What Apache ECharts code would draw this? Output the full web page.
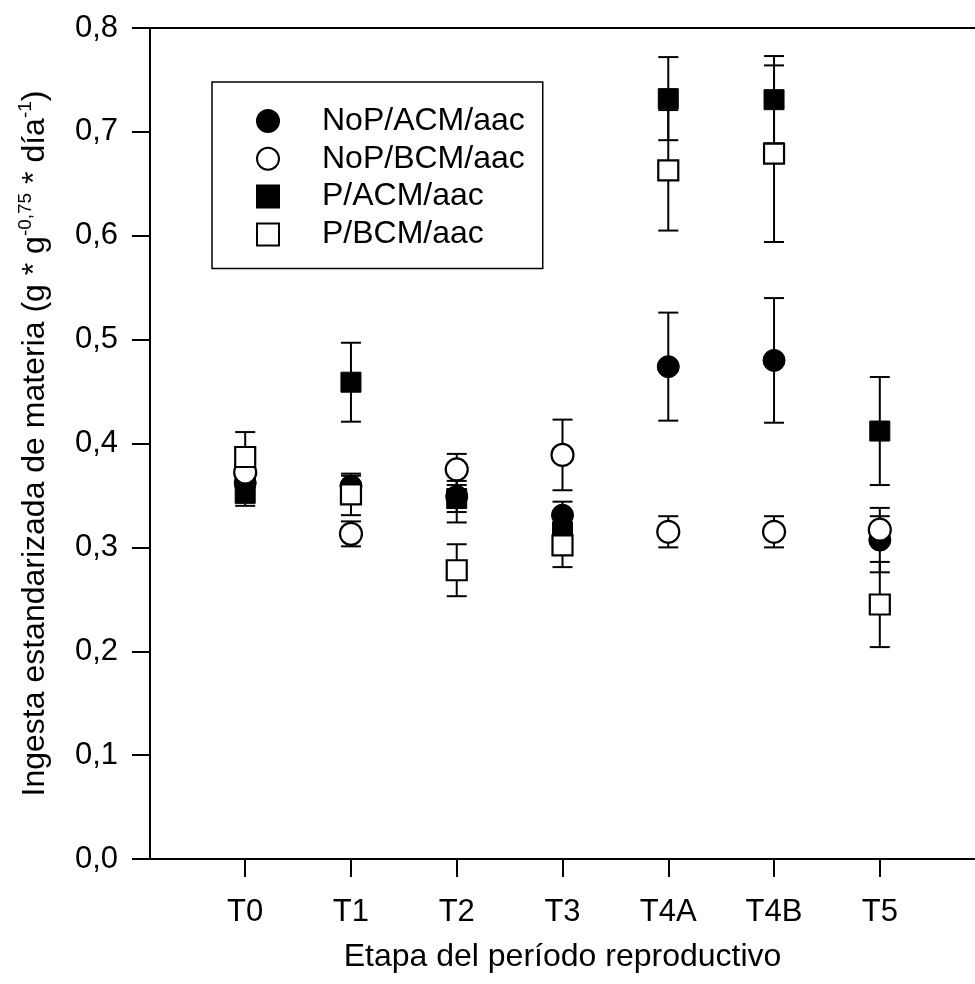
<!DOCTYPE html>
<html>
<head>
<meta charset="utf-8">
<script src="https://cdn.jsdelivr.net/npm/echarts@6/dist/echarts.min.js"></script>
<style>
  html, body { margin: 0; padding: 0; background: #fff; }
  #chart { width: 975px; height: 984px; }
</style>
</head>
<body>
<div id="chart"></div>
<script>
// etapas del periodo reproductivo (eje x)
const stages = ["T0", "T1", "T2", "T3", "T4A", "T4B", "T5"];

// medias y errores
const nopAcmMean = [0.362, 0.359, 0.349, 0.331, 0.474, 0.480, 0.307];
const nopAcmErr = [0.010, 0.010, 0.015, 0.013, 0.052, 0.060, 0.031];
const nopBcmMean = [0.372, 0.313, 0.375, 0.389, 0.315, 0.315, 0.317];
const nopBcmErr = [0.010, 0.012, 0.015, 0.034, 0.015, 0.015, 0.013];
const pAcmMean = [0.352, 0.459, 0.347, 0.315, 0.732, 0.731, 0.412];
const pAcmErr = [0.012, 0.038, 0.023, 0.020, 0.040, 0.042, 0.052];
const pBcmMean = [0.387, 0.351, 0.278, 0.302, 0.663, 0.679, 0.245];
const pBcmErr = [0.024, 0.020, 0.025, 0.021, 0.058, 0.085, 0.041];

const FONT = "'Liberation Sans', Arial, sans-serif";

const groups = [
  { name: "NoP/ACM/aac", mean: nopAcmMean, err: nopAcmErr, symbol: "circle", size: 22, filled: true },
  { name: "NoP/BCM/aac", mean: nopBcmMean, err: nopBcmErr, symbol: "circle", size: 22, filled: false },
  { name: "P/ACM/aac", mean: pAcmMean, err: pAcmErr, symbol: "rect", size: 20, filled: true },
  { name: "P/BCM/aac", mean: pBcmMean, err: pBcmErr, symbol: "rect", size: 20, filled: false },
];

// barras de error: linea vertical con topes
function renderErrorBar(params, api) {
  const x = api.value(0);
  const hi = api.coord([x, api.value(2)]);
  const lo = api.coord([x, api.value(1)]);
  const half = 10;
  const style = { stroke: "#000", lineWidth: 2 };
  return {
    type: "group",
    children: [
      { type: "line", shape: { x1: hi[0], y1: hi[1], x2: lo[0], y2: lo[1] }, style },
      { type: "line", shape: { x1: hi[0] - half, y1: hi[1], x2: hi[0] + half, y2: hi[1] }, style },
      { type: "line", shape: { x1: lo[0] - half, y1: lo[1], x2: lo[0] + half, y2: lo[1] }, style },
    ],
  };
}

const series = [];
groups.forEach((g) => {
  series.push({
    type: "custom",
    name: g.name + " err",
    renderItem: renderErrorBar,
    encode: { x: 0, y: [1, 2] },
    z: 1,
    silent: true,
    data: g.mean.map((m, i) => [i, m - g.err[i], m + g.err[i]]),
  });
});
groups.forEach((g) => {
  series.push({
    type: "scatter",
    name: g.name,
    symbol: g.symbol,
    symbolSize: g.size,
    z: 2,
    itemStyle: g.filled
      ? { color: "#000", borderColor: "#000", borderWidth: 1, opacity: 1 }
      : { color: "#fff", borderColor: "#000", borderWidth: 2.2, opacity: 1 },
    data: g.mean.map((m, i) => [i, m]),
  });
});

const chart = echarts.init(document.getElementById("chart"));
chart.setOption({
  animation: false,
  backgroundColor: "#fff",
  grid: { left: 150, right: 0, top: 28, bottom: 125 },
  legend: {
    orient: "vertical",
    left: 212,
    top: 82,
    padding: [23, 18, 18, 44],
    itemWidth: 22,
    itemHeight: 22,
    itemGap: 5.8,
    borderColor: "#000",
    borderWidth: 1.5,
    backgroundColor: "#fff",
    itemStyle: { borderColor: "#000", borderWidth: 2, opacity: 1 },
    textStyle: { fontFamily: FONT, fontSize: 32, color: "#000", lineHeight: 32, padding: [0, 0, 0, 38] },
    data: groups.map((g) => ({ name: g.name, icon: g.symbol })),
  },
  xAxis: [
    {
      type: "value",
      min: -0.9,
      max: 6.9,
      name: "Etapa del período reproductivo",
      nameLocation: "middle",
      nameGap: 82,
      nameTextStyle: { fontFamily: FONT, fontSize: 32, color: "#000" },
      axisLine: { show: true, onZero: false, lineStyle: { color: "#000", width: 2 } },
      axisTick: { show: true, inside: false, length: 18, customValues: stages.map((s, i) => i), lineStyle: { color: "#000", width: 2 } },
      axisLabel: {
        customValues: stages.map((s, i) => i),
        formatter: (v) => stages[Math.round(v)],
        fontFamily: FONT,
        fontSize: 31,
        color: "#000",
        margin: 38,
      },
      splitLine: { show: false },
    },
    {
      type: "value",
      position: "top",
      min: -0.9,
      max: 6.9,
      axisLine: { show: true, onZero: false, lineStyle: { color: "#000", width: 2 } },
      axisTick: { show: false },
      axisLabel: { show: false },
      splitLine: { show: false },
    },
  ],
  yAxis: {
    type: "value",
    min: 0,
    max: 0.8,
    interval: 0.1,
    name: "{n|Ingesta estandarizada de materia (g * g}{s|-0,75}{n| * día}{s|-1}{n|)}",
    nameLocation: "middle",
    nameGap: 96,
    nameTextStyle: {
      rich: {
        n: { fontFamily: FONT, fontSize: 32, color: "#000", lineHeight: 38 },
        s: { fontFamily: FONT, fontSize: 19, color: "#000", lineHeight: 19, verticalAlign: "top" },
      },
    },
    axisLine: { show: true, onZero: false, lineStyle: { color: "#000", width: 2 } },
    axisTick: { show: true, inside: false, length: 18, lineStyle: { color: "#000", width: 2 } },
    axisLabel: {
      formatter: (v) => v.toFixed(1).replace(".", ","),
      fontFamily: FONT,
      fontSize: 31,
      color: "#000",
      margin: 32,
    },
    splitLine: { show: false },
  },
  series: series,
});
</script>
</body>
</html>
